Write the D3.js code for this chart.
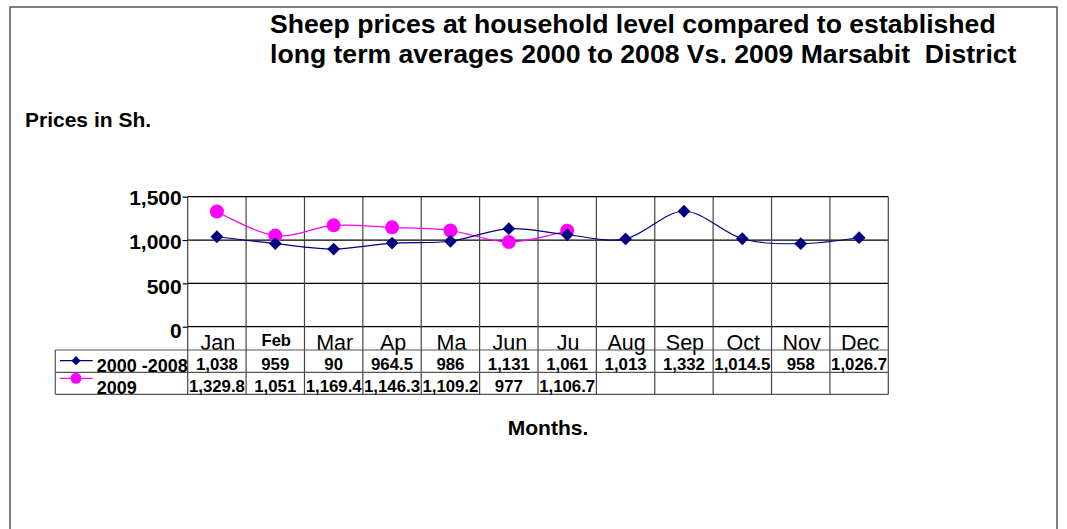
<!DOCTYPE html>
<html>
<head>
<meta charset="utf-8">
<script src="https://cdnjs.cloudflare.com/ajax/libs/d3/7.8.5/d3.min.js"></script>
<style>
  body { margin: 0; background: #fff; }
  text { font-family: "Liberation Sans", Arial, sans-serif; fill: #000; }
</style>
</head>
<body>
<svg id="chart" width="1067" height="529"></svg>
<script>
// Chart data
const months = ["Jan", "Feb", "Mar", "Ap", "Ma", "Jun", "Ju", "Aug", "Sep", "Oct", "Nov", "Dec"];
const seriesNames = ["2000 -2008", "2009"];
// plotted values (Mar of the long term series sits near 900 in the chart)
const longTerm = [1038, 959, 896, 964.5, 986, 1131, 1061, 1013, 1332, 1014.5, 958, 1026.7];
const year2009 = [1329.8, 1051, 1169.4, 1146.3, 1109.2, 977, 1106.7];
// data table text as printed under the chart
const longTermLabels = ["1,038", "959", "90", "964.5", "986", "1,131", "1,061", "1,013", "1,332", "1,014.5", "958", "1,026.7"];
const year2009Labels = ["1,329.8", "1,051", "1,169.4", "1,146.3", "1,109.2", "977", "1,106.7"];
const yTicks = [0, 500, 1000, 1500];

const svg = d3.select("#chart");

// outer frame
svg.append("rect")
    .attr("x", 10).attr("y", 7)
    .attr("width", 1047).attr("height", 540)
    .attr("fill", "none").attr("stroke", "#555").attr("stroke-width", 1.5);

// title
const title = svg.append("text")
    .attr("font-size", 26.6).attr("font-weight", "bold");
title.append("tspan").attr("x", 270).attr("y", 33)
    .text("Sheep prices at household level compared to established");
title.append("tspan").attr("x", 270).attr("y", 63)
    .text("long term averages 2000 to 2008 Vs. 2009 Marsabit \u00a0District");

svg.append("text")
    .attr("x", 25).attr("y", 127)
    .attr("font-size", 21).attr("font-weight", "bold")
    .text("Prices in Sh.");

svg.append("text")
    .attr("x", 548).attr("y", 435)
    .attr("text-anchor", "middle")
    .attr("font-size", 21).attr("font-weight", "bold")
    .text("Months.");

// scales
const plotLeft = 187.7, plotRight = 888.3, plotTop = 196.7, zeroY = 326.7;
const tableTop = 350, rowMid = 372.3, tableBottom = 394.3, tableLeft = 55.3;

const x = d3.scaleBand().domain(months).range([plotLeft, plotRight]);
const cx = m => x(m) + x.bandwidth() / 2;
const y = d3.scaleLinear().domain([0, 1500]).range([zeroY, plotTop]);
const labelY = d3.scaleLinear().domain([0, 1500]).range([331, 197.5]);

// horizontal gridlines
svg.append("g")
    .selectAll("line")
    .data(yTicks)
    .join("line")
    .attr("x1", plotLeft).attr("x2", plotRight)
    .attr("y1", d => y(d)).attr("y2", d => y(d))
    .attr("stroke", "#000").attr("stroke-width", 1.2);

// column lines through plot and table
const bounds = months.map(m => x(m)).concat([plotRight]);
svg.append("g")
    .selectAll("line")
    .data(bounds)
    .join("line")
    .attr("x1", d => d).attr("x2", d => d)
    .attr("y1", plotTop).attr("y2", tableBottom)
    .attr("stroke", "#444").attr("stroke-width", 1.2);

// y axis
const yAxis = svg.append("g")
    .attr("transform", `translate(${plotLeft},0)`)
    .call(d3.axisLeft(y).tickValues(yTicks).tickFormat(d3.format(",")).tickSize(5).tickPadding(1));
yAxis.select(".domain").remove();
yAxis.selectAll(".tick line").attr("stroke", "#000").attr("stroke-width", 1.2);
yAxis.selectAll(".tick text")
    .attr("font-size", 21).attr("font-weight", "bold")
    .attr("font-family", "'Liberation Sans', Arial, sans-serif")
    .attr("fill", "#000")
    .attr("y", d => labelY(d) - y(d));

// category labels
svg.append("g")
    .selectAll("text")
    .data(months)
    .join("text")
    .attr("x", d => cx(d) + 1)
    .attr("y", d => d === "Feb" ? 345.5 : 349.5)
    .attr("text-anchor", "middle")
    .attr("font-size", d => d === "Feb" ? 16.5 : 21.5)
    .attr("font-weight", d => d === "Feb" ? "bold" : "normal")
    .text(d => d);

// table lines
svg.append("g")
    .selectAll("line")
    .data([tableTop, rowMid, tableBottom])
    .join("line")
    .attr("x1", tableLeft).attr("x2", plotRight)
    .attr("y1", d => d).attr("y2", d => d)
    .attr("stroke", "#555").attr("stroke-width", 1.2);
svg.append("line")
    .attr("x1", tableLeft).attr("x2", tableLeft)
    .attr("y1", tableTop).attr("y2", tableBottom)
    .attr("stroke", "#555").attr("stroke-width", 1.2);

// table values
svg.append("g")
    .selectAll("text")
    .data(longTermLabels)
    .join("text")
    .attr("x", (d, i) => cx(months[i]))
    .attr("y", 370)
    .attr("text-anchor", "middle")
    .attr("font-size", 16.8).attr("font-weight", "bold")
    .text(d => d);
svg.append("g")
    .selectAll("text")
    .data(year2009Labels)
    .join("text")
    .attr("x", (d, i) => cx(months[i]))
    .attr("y", 392)
    .attr("text-anchor", "middle")
    .attr("font-size", 16.8).attr("font-weight", "bold")
    .text(d => d);

// series lines
const line = d3.line()
    .x((d, i) => cx(months[i]))
    .y(d => y(d))
    .curve(d3.curveCardinal);

svg.append("path")
    .datum(year2009)
    .attr("d", line)
    .attr("fill", "none").attr("stroke", "#ff00ff").attr("stroke-width", 1.2);
svg.append("path")
    .datum(longTerm)
    .attr("d", line)
    .attr("fill", "none").attr("stroke", "#000080").attr("stroke-width", 1.2);

// markers
const diamond = d3.symbol(d3.symbolSquare, 82);
svg.append("g")
    .selectAll("circle")
    .data(year2009)
    .join("circle")
    .attr("cx", (d, i) => cx(months[i]))
    .attr("cy", d => y(d))
    .attr("r", 7)
    .attr("fill", "#ff00ff");
svg.append("g")
    .selectAll("path")
    .data(longTerm)
    .join("path")
    .attr("d", diamond)
    .attr("transform", (d, i) => `translate(${cx(months[i])},${y(d)}) rotate(45)`)
    .attr("fill", "#000080");

// legend keys inside the table
const keyY = [360.7, 378.3];
svg.append("line")
    .attr("x1", 60).attr("x2", 92.7).attr("y1", keyY[0]).attr("y2", keyY[0])
    .attr("stroke", "#000080").attr("stroke-width", 1.2);
svg.append("path")
    .attr("d", d3.symbol(d3.symbolSquare, 42))
    .attr("transform", `translate(76,${keyY[0]}) rotate(45)`)
    .attr("fill", "#000080");
svg.append("line")
    .attr("x1", 60).attr("x2", 92.7).attr("y1", keyY[1]).attr("y2", keyY[1])
    .attr("stroke", "#ff00ff").attr("stroke-width", 1.2);
svg.append("circle")
    .attr("cx", 76).attr("cy", keyY[1]).attr("r", 5.5)
    .attr("fill", "#ff00ff");

svg.append("g")
    .selectAll("text")
    .data(seriesNames)
    .join("text")
    .attr("x", 96.7)
    .attr("y", (d, i) => i === 0 ? 372 : 393.5)
    .attr("font-size", 18).attr("font-weight", "bold")
    .text(d => d);
</script>
</body>
</html>
